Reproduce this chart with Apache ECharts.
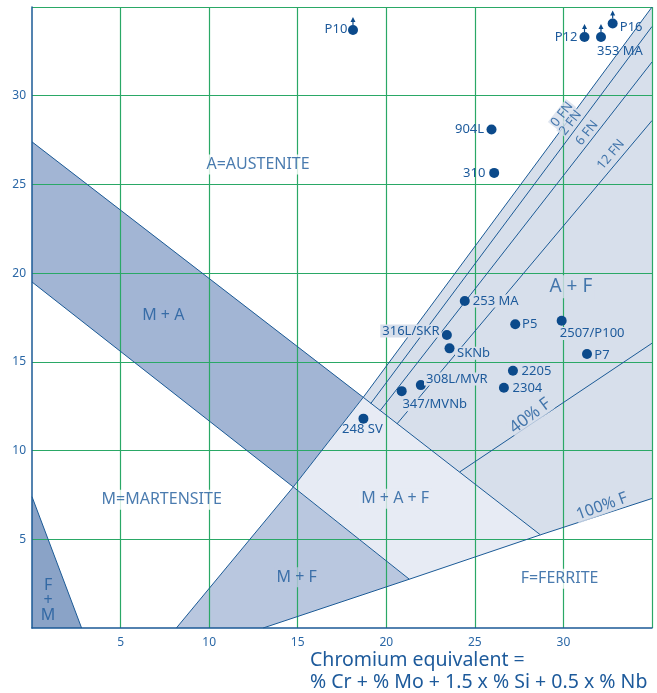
<!DOCTYPE html>
<html>
<head>
<meta charset="utf-8">
<script src="https://cdn.jsdelivr.net/npm/echarts@6/dist/echarts.min.js"></script>
<style>
html,body{margin:0;padding:0;background:#fff;}
#chart{width:657px;height:693px;}
</style>
</head>
<body>
<div id="chart"></div>
<script>
// ---- Axis setup ----
const axisMin = 0;
const axisMax = 35;
const tickStep = 5;
const tickLabels = [5, 10, 15, 20, 25, 30];

// ---- Phase regions (Cr-eq, Ni-eq) ----
const regionMA  = [[0, 27.4], [18.7, 13.0], [14.75, 7.95], [0, 19.5]];
const regionMF  = [[8.15, 0], [14.75, 7.95], [21.3, 2.75], [13.05, 0]];
const regionMAF = [[18.7, 13.0], [28.7, 5.25], [21.3, 2.75], [14.75, 7.95]];
const regionAF  = [[18.7, 13.0], [35, 35], [35, 7.3], [28.7, 5.25]];
const regionFM  = [[0, 0], [0, 7.4], [2.8, 0]];

// ---- Boundary lines ----
const lineMAUpper = [[0, 27.4], [18.7, 13.0], [28.7, 5.25]];
const lineMALower = [[0, 19.5], [14.75, 7.95], [21.3, 2.75]];
const lineMF      = [[8.15, 0], [14.75, 7.95], [18.7, 13.0]];
const lineFN0     = [[18.7, 13.0], [35, 35]];
const lineFN2     = [[19.12, 12.65], [35, 33.9]];
const lineFN6     = [[19.65, 12.25], [35, 31.9]];
const lineFN12    = [[20.6, 11.5], [35, 28.6]];
const lineF40     = [[24.15, 8.8], [35, 16.05]];
const lineF100    = [[13.05, 0], [21.3, 2.75], [28.7, 5.25], [35, 7.3]];
const lineFM      = [[0, 7.4], [2.8, 0]];

// ---- Alloys ----
const alloyNames = ['P10', 'P12', '353 MA', 'P16', '904L', '310', '253 MA', 'P5', '2507/P100',
  '316L/SKR', 'SKNb', 'P7', '2205', '2304', '308L/MVR', '347/MVNb', '248 SV'];
const creq = [18.12, 31.19, 32.12, 32.78, 25.94, 26.09, 24.43, 27.28, 29.9,
  23.42, 23.57, 31.33, 27.15, 26.64, 21.95, 20.87, 18.71];
const nieq = [33.7, 33.31, 33.31, 34.07, 28.1, 25.65, 18.43, 17.12, 17.32,
  16.51, 15.76, 15.44, 14.5, 13.54, 13.69, 13.35, 11.8];
const offScale = ['P10', 'P12', '353 MA', 'P16'];

// ---- Region / line labels ----
const regionNames = ['A=AUSTENITE', 'M + A', 'M=MARTENSITE', 'M + A + F', 'M + F', 'F=FERRITE', 'A + F', 'F\n+\nM'];
const regionLabelX = [12.76, 7.41, 7.32, 20.5, 14.94, 29.78, 30.42, 0.91];
const regionLabelY = [26.12, 17.64, 7.23, 7.29, 2.86, 2.77, 19.24, 1.54];
const lineNames = ['0 FN', '2 FN', '6 FN', '12 FN', '40% F', '100% F'];
const lineLabelX = [29.92, 30.4, 31.33, 32.68, 28.13, 32.17];
const lineLabelY = [28.94, 28.47, 27.9, 26.68, 11.95, 6.85];

// ---- Styles (not data) ----
const FONT = 'Noto Sans';
const TXT = '#1d5a9b';
const DOT = '#0b4a8b';
const LINE = '#1b5a96';
const GRID = '#2aa866';
const C_AF = '#d7dfeb';
const C_MAF = '#e7ebf4';
const C_MA = '#a2b5d4';
const C_MF = '#b9c7df';
const C_FM = '#8aa3c7';

const regionList = [regionMA, regionMF, regionMAF, regionAF, regionFM];
const regionColors = [C_MA, C_MF, C_MAF, C_AF, C_FM];

const pointLabelOffsets = {
  'P10': [-17, -1], 'P12': [-18.5, 0], '353 MA': [19, 14.5], 'P16': [18.5, 4],
  '904L': [-22, 0], '310': [-20, 0], '253 MA': [31, 0], 'P5': [14.5, 0],
  '2507/P100': [30.5, 12.7], '316L/SKR': [-36, -4], 'SKNb': [24, 5], 'P7': [15, 1],
  '2205': [23.5, 1], '2304': [23.5, 1], '308L/MVR': [36, -6], '347/MVNb': [33, 13.5],
  '248 SV': [-1, 11]
};
const pointLabelBg = {
  '253 MA': C_AF, '316L/SKR': C_AF, 'SKNb': C_AF, '308L/MVR': C_AF, '347/MVNb': C_AF, '2507/P100': C_AF
};
const regionLabelStyle = [
  {size: 16, bg: '#fff'}, {size: 16, bg: C_MA}, {size: 16, bg: '#fff'}, {size: 16, bg: C_MAF},
  {size: 16, bg: C_MF}, {size: 16, bg: '#fff'}, {size: 19, bg: C_AF}, {size: 16, bg: null, lh: 15}
];
const lineLabelStyle = [
  {size: 13, rot: 52}, {size: 13, rot: 52}, {size: 13, rot: 51}, {size: 13, rot: 50},
  {size: 17, rot: 37}, {size: 16, rot: 20}
];

const chart = echarts.init(document.getElementById('chart'), null, {renderer: 'canvas'});

function lineSeries(data) {
  return {
    type: 'line', data: data, showSymbol: false, symbol: 'none', silent: true,
    lineStyle: {color: LINE, width: 1}, z: 3, animation: false
  };
}

const series = [];
series.push({
  type: 'custom',
  coordinateSystem: 'cartesian2d',
  data: regionList.map((r, i) => [r[0][0], r[0][1], i]),
  encode: {x: 0, y: 1},
  z: 1,
  silent: true,
  animation: false,
  renderItem: function (params, api) {
    const idx = api.value(2);
    const pts = regionList[idx].map(p => api.coord(p));
    return {type: 'polygon', shape: {points: pts}, style: {fill: regionColors[idx], stroke: null}};
  }
});
[lineMAUpper, lineMALower, lineMF, lineFN0, lineFN2, lineFN6, lineFN12, lineF40, lineF100, lineFM]
  .forEach(l => series.push(lineSeries(l)));

// dots
series.push({
  type: 'scatter',
  symbolSize: 10,
  itemStyle: {color: DOT, opacity: 1},
  z: 6,
  animation: false,
  data: alloyNames.map((n, i) => {
    const off = pointLabelOffsets[n];
    const bg = pointLabelBg[n];
    return {
      name: n, value: [creq[i], nieq[i]],
      label: {
        show: true, position: 'inside', offset: off, formatter: n,
        color: TXT, fontFamily: FONT, fontSize: 13,
        backgroundColor: bg || 'transparent', padding: bg ? [0, 2] : 0
      }
    };
  })
});
// up-arrows for off-scale alloys
series.push({
  type: 'scatter',
  symbol: 'path://M2.5,0 L5,5 L3.1,5 L3.1,8 L1.9,8 L1.9,5 L0,5 Z',
  symbolSize: [5, 8],
  symbolOffset: [0, -9],
  itemStyle: {color: DOT, opacity: 1},
  z: 6,
  animation: false,
  data: alloyNames.map((n, i) => offScale.includes(n) ? [creq[i], nieq[i]] : null).filter(d => d)
});
// region labels
series.push({
  type: 'scatter', symbolSize: 1, itemStyle: {color: 'rgba(0,0,0,0)'}, z: 5, silent: true, animation: false,
  data: regionNames.map((n, i) => {
    const st = regionLabelStyle[i];
    return {
      value: [regionLabelX[i], regionLabelY[i]],
      label: {
        show: true, position: 'inside', formatter: n, color: TXT, fontFamily: FONT,
        fontSize: st.size, lineHeight: st.lh || st.size + 4,
        backgroundColor: st.bg || 'transparent', padding: st.bg ? [0, 2] : 0
      }
    };
  })
});
// line labels
series.push({
  type: 'scatter', symbolSize: 1, itemStyle: {color: 'rgba(0,0,0,0)'}, z: 5, silent: true, animation: false,
  data: lineNames.map((n, i) => {
    const st = lineLabelStyle[i];
    return {
      value: [lineLabelX[i], lineLabelY[i]],
      label: {
        show: true, position: 'inside', formatter: n, color: TXT, fontFamily: FONT,
        fontSize: st.size, rotate: st.rot, backgroundColor: C_AF, padding: [0, 1]
      }
    };
  })
});

const axisCommon = {
  type: 'value', min: axisMin, max: axisMax, interval: tickStep, z: 2,
  axisLine: {show: true, onZero: false, lineStyle: {color: LINE, width: 1.5}},
  axisTick: {show: false},
  splitLine: {show: true, showMinLine: false, lineStyle: {color: GRID, width: 1.2}},
  axisLabel: {
    color: '#2a67a6', fontFamily: FONT, fontSize: 12,
    formatter: v => tickLabels.includes(v) ? String(v) : ''
  }
};

chart.setOption({
  animation: false,
  backgroundColor: '#fff',
  grid: {left: 32, top: 7, right: 5, bottom: 65, containLabel: false},
  xAxis: Object.assign({}, axisCommon, {axisLabel: Object.assign({}, axisCommon.axisLabel, {margin: 9})}),
  yAxis: Object.assign({}, axisCommon, {axisLabel: Object.assign({}, axisCommon.axisLabel, {margin: 6})}),
  graphic: [{
    type: 'text', left: 310, top: 649, z: 10,
    style: {
      text: 'Chromium equivalent =\n% Cr + % Mo + 1.5 x % Si + 0.5 x % Nb',
      fill: TXT, font: '19.5px "Noto Sans"', lineHeight: 22
    }
  }],
  series: series
});
</script>
</body>
</html>
